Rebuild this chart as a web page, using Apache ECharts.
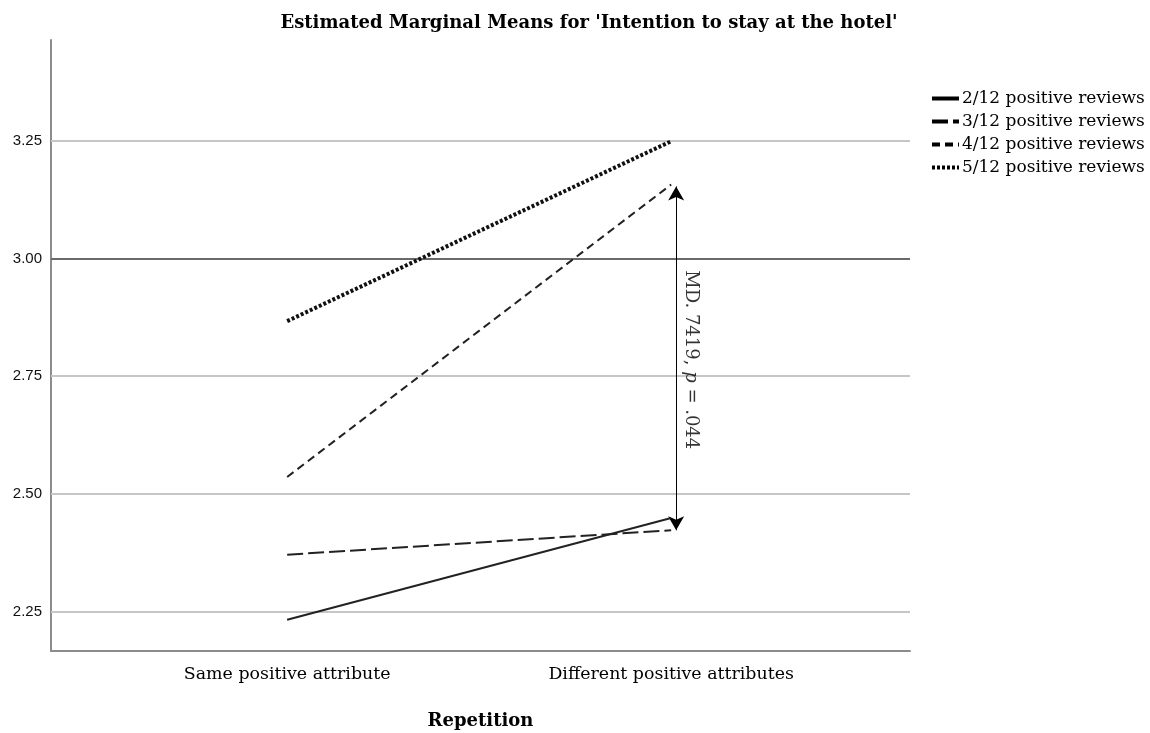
<!DOCTYPE html>
<html>
<head>
<meta charset="utf-8">
<script src="https://cdn.jsdelivr.net/npm/echarts@6/dist/echarts.min.js"></script>
<style>html,body{margin:0;padding:0;background:#fff;}#c{width:1150px;height:733px;}</style>
</head>
<body>
<div id="c"></div>
<script>
// ---- data ----
const categories = ['Same positive attribute', 'Different positive attributes'];
const seriesNames = ['2/12 positive reviews', '3/12 positive reviews', '4/12 positive reviews', '5/12 positive reviews'];
const values212 = [2.233, 2.449];
const values312 = [2.371, 2.423];
const values412 = [2.536, 3.157];
const values512 = [2.867, 3.249];
const yTicks = [2.25, 2.50, 2.75, 3.00, 3.25];
const referenceLine = 3.00;
const arrowFrom = 3.153, arrowTo = 2.423;

const serif = '"DejaVu Serif", "Liberation Serif", serif';
const tickFont = '"Liberation Sans Narrow", "Liberation Sans", Arial, sans-serif';

const styles = [
  {type: 'solid', width: 2, legendWidth: 4},
  {type: [16, 5], width: 2, legendWidth: 4},
  {type: [8, 5], width: 2, legendWidth: 4},
  {type: [3, 2], width: 4, legendWidth: 4}
];
const allValues = [values212, values312, values412, values512];

const series = allValues.map((vals, i) => ({
  name: seriesNames[i],
  type: 'line',
  data: vals.map((v, j) => [j, v]),
  symbol: 'none',
  silent: true,
  z: 5,
  itemStyle: {color: '#000'},
  lineStyle: {color: i === 3 ? '#111' : '#222', width: styles[i].width, type: styles[i].type}
}));

// gridlines and reference line
series.push({
  name: 'helper',
  type: 'line',
  data: [],
  silent: true,
  markLine: {
    silent: true,
    symbol: 'none',
    label: {show: false},
    animation: false,
    data: yTicks.map(t => ({
      yAxis: t,
      lineStyle: t === referenceLine
        ? {color: '#6a6a6a', width: 2, type: 'solid'}
        : {color: '#c6c6c6', width: 2, type: 'solid'}
    }))
  },
  z: 1
});
// double-headed arrow
series.push({
  name: 'arrow',
  type: 'line',
  data: [],
  silent: true,
  markLine: {
    silent: true,
    animation: false,
    symbol: ['arrow', 'arrow'],
    symbolSize: [12, 14],
    label: {show: false},
    lineStyle: {color: '#000', width: 1, type: 'solid'},
    data: [[{coord: [1.013, arrowFrom]}, {coord: [1.013, arrowTo]}]]
  },
  z: 6
});
// annotation
series.push({
  name: 'note',
  type: 'scatter',
  data: [[1.05, 2.785]],
  symbolSize: 0,
  silent: true,
  label: {
    show: true,
    position: 'inside',
    rotate: -90,
    formatter: () => '{a|MD. 7419, }{i|p}{a| = .044}',
    rich: {
      a: {fontFamily: serif, fontSize: 18, color: '#000'},
      i: {fontFamily: serif, fontSize: 18, fontStyle: 'italic', color: '#000'}
    }
  },
  z: 7
});

const option = {
  backgroundColor: '#fff',
  animation: false,
  title: {
    text: "Estimated Marginal Means for 'Intention to stay at the hotel'",
    left: 584,
    textAlign: 'center',
    top: 9,
    textStyle: {fontFamily: serif, fontWeight: 'bold', fontSize: 18, color: '#000'}
  },
  legend: {
    data: seriesNames.map((n, i) => ({
      name: n,
      itemStyle: {opacity: 0},
      lineStyle: {width: styles[i].legendWidth, type: styles[i].type, color: '#000', opacity: 1}
    })),
    orient: 'vertical',
    left: 925,
    top: 85,
    itemWidth: 27,
    itemHeight: 14,
    itemGap: 6,
    selectedMode: false,
    textStyle: {fontFamily: serif, fontSize: 17, color: '#000', padding: [0, 0, 0, -2]}
  },
  grid: {left: 51, right: 240, top: 40, bottom: 82, outerBoundsMode: 'none'},
  xAxis: {
    type: 'value',
    min: -0.615,
    max: 1.622,
    name: 'Repetition',
    nameLocation: 'middle',
    nameGap: 61,
    nameTextStyle: {fontFamily: serif, fontWeight: 'bold', fontSize: 18, color: '#000'},
    axisLine: {show: true, onZero: false, lineStyle: {color: '#8c8c8c', width: 2}},
    axisTick: {show: false},
    splitLine: {show: false},
    axisLabel: {
      customValues: [0, 1],
      formatter: v => categories[Math.round(v)],
      fontFamily: serif, fontSize: 17.4, color: '#000', margin: 15
    }
  },
  yAxis: {
    type: 'value',
    min: 2.1665,
    max: 3.464,
    axisLine: {show: true, onZero: false, lineStyle: {color: '#8c8c8c', width: 2}},
    axisTick: {show: false},
    splitLine: {show: false},
    axisLabel: {
      customValues: yTicks,
      formatter: v => v.toFixed(2),
      fontFamily: tickFont, fontSize: 15, color: '#111', margin: 9
    }
  },
  series: series
};

const chart = echarts.init(document.getElementById('c'), null, {renderer: 'canvas'});
chart.setOption(option);
</script>
</body>
</html>
